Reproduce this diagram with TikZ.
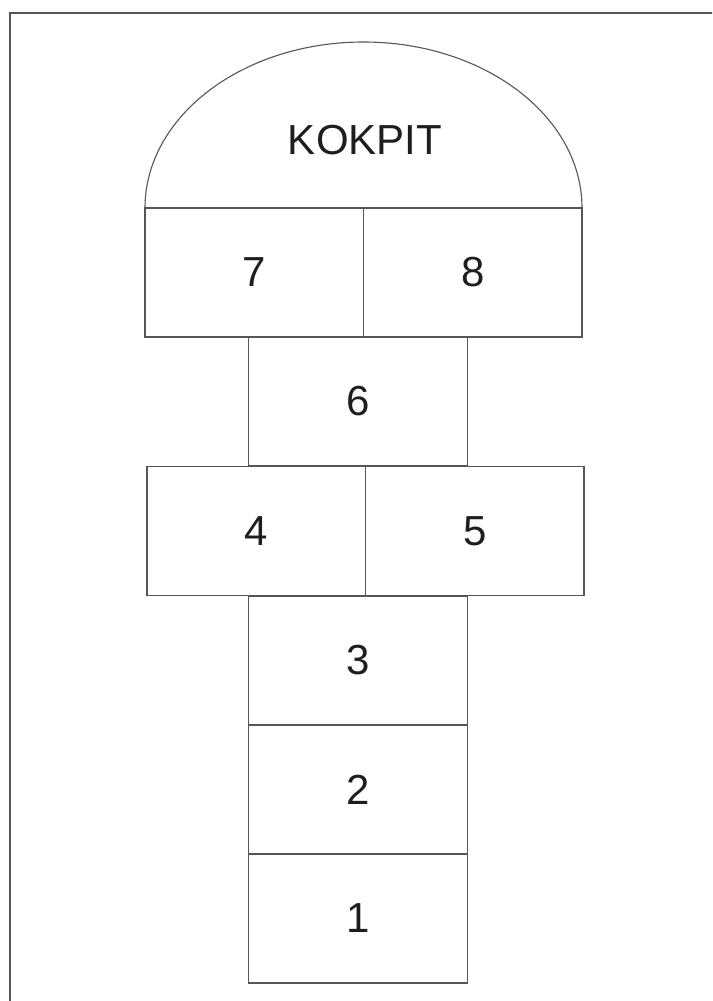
\documentclass[tikz,border=0pt]{standalone}
\usepackage{fontspec}
\setmainfont{Liberation Sans}
\usepackage{tikz}
\usetikzlibrary{positioning}
\usepackage{xcolor}
\definecolor{garisabu}{RGB}{85,85,85}
\definecolor{teks}{RGB}{30,30,30}

\begin{document}
\begin{tikzpicture}[x=1pt, y=-1pt,
  petak/.style={draw=garisabu, line width=1.2pt, minimum width=218.5pt, minimum height=129pt,
    inner sep=0pt, outer sep=0pt, text=teks, font=\fontsize{42}{48}\selectfont}]
  \clip (0,0) rectangle (712,1001);
  \fill[white] (0,0) rectangle (712,1001);
  \draw[garisabu, line width=1.6pt] (10,13) rectangle (730,1020);
  % petak-petak
  \node[petak] (p7) at (254.25,272.5) {7};
  \node[petak] (p8) at (472.75,272.5) {8};
  \node[petak] (p6) at (358,401.5) {6};
  \node[petak] (p4) at (256.25,531.25) {4};
  \node[petak] (p5) at (474.75,531.25) {5};
  \node[petak] (p3) at (358,660.5) {3};
  \node[petak, below=0pt of p3] (p2) {2};
  \node[petak, below=0pt of p2] (p1) {1};
  % kokpit
  \coordinate (puncak) at (363.5,42);
  \draw[garisabu, line width=1.1pt] (p7.north west)
    .. controls +(0,-91.7) and +(-120.7,0) .. (puncak)
    .. controls +(120.7,0) and +(0,-91.7) .. (p8.north east);
  \node[text=teks, font=\fontsize{42}{48}\selectfont] (kokpit) at (365,140) {KOKPIT};
\end{tikzpicture}
\end{document}
